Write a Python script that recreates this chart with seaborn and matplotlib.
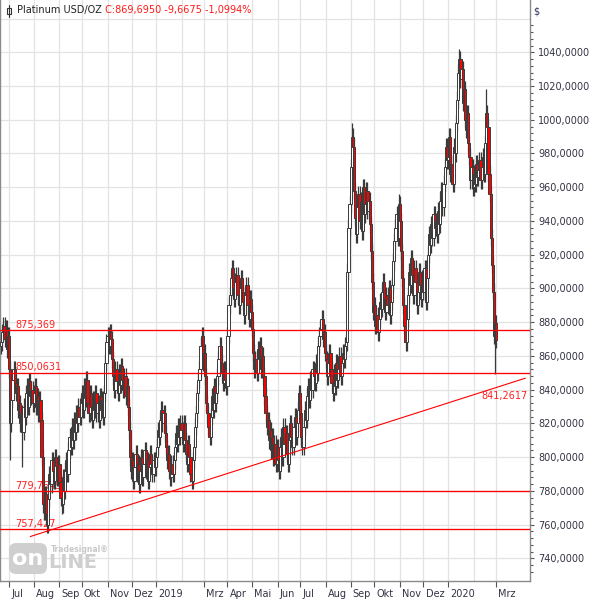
import numpy as np
import pandas as pd
import matplotlib
matplotlib.use('Agg')
import matplotlib.pyplot as plt
import matplotlib.ticker as mticker
import matplotlib.transforms as mtransforms
from matplotlib.patches import Rectangle, FancyBboxPatch
from matplotlib.lines import Line2D
import seaborn as sns

# ---------------- data (daily closes) ----------------
start_date = '2018-06-21'
end_date = '2020-03-02'

close_jun18 = [868, 874, 878, 870, 876, 864, 872]
close_jul18 = [852, 820, 834, 846, 852, 844, 838, 842, 828, 832, 820, 826, 815, 830, 824, 838, 842, 830, 845, 836, 840, 832]
close_aug18 = [838, 842, 830, 836, 826, 834, 822, 800, 772, 768, 778, 766, 760, 775, 790, 784, 798, 792, 786, 800, 795, 788, 796]
close_sep18 = [785, 776, 772, 788, 780, 792, 798, 790, 804, 812, 806, 818, 810, 822, 815, 826, 820, 830, 824, 832]
close_oct18 = [838, 828, 842, 835, 846, 832, 826, 838, 830, 822, 834, 828, 838, 826, 832, 822, 836, 828, 834, 824, 838, 856, 868]
close_nov18 = [872, 866, 874, 870, 858, 848, 840, 852, 845, 838, 850, 843, 854, 846, 840, 848, 836, 842, 830, 816, 800, 792]
close_dec18 = [798, 786, 794, 802, 790, 796, 784, 792, 800, 788, 796, 804, 792, 798, 786, 794, 802, 796, 790, 798, 794]
close_jan19 = [800, 806, 816, 812, 822, 828, 820, 826, 814, 806, 798, 802, 792, 788, 796, 790, 798, 806, 814, 808, 818, 812, 820]
close_feb19 = [816, 808, 820, 810, 802, 796, 808, 800, 790, 786, 798, 806, 818, 826, 838, 846, 852, 866, 872, 856]
close_mar19 = [862, 848, 832, 826, 818, 812, 824, 836, 828, 842, 832, 838, 848, 858, 866, 856, 850, 844, 852, 846, 842]
close_apr19 = [872, 890, 896, 906, 912, 900, 894, 904, 908, 896, 890, 900, 906, 898, 892, 884, 896, 902, 890, 882, 894, 886]
close_may19 = [876, 862, 852, 858, 850, 864, 858, 866, 852, 860, 848, 836, 826, 818, 822, 810, 816, 804, 812, 800, 808, 796, 806]
close_jun19 = [798, 792, 806, 812, 800, 818, 808, 814, 802, 796, 810, 820, 812, 806, 818, 824, 812, 820, 828, 838]
close_jul19 = [826, 812, 806, 818, 828, 822, 836, 842, 834, 846, 840, 852, 848, 844, 856, 850, 866, 872, 876, 882, 870, 874, 862]
close_aug19 = [858, 848, 856, 862, 852, 844, 838, 850, 842, 856, 846, 852, 860, 848, 856, 862, 858, 866, 868, 910, 936, 950]
close_sep19 = [972, 990, 984, 958, 942, 932, 948, 956, 940, 952, 934, 960, 944, 950, 958, 946, 952, 938, 922, 904, 886]
close_oct19 = [890, 878, 884, 874, 882, 892, 888, 898, 904, 894, 886, 896, 890, 900, 884, 892, 902, 916, 928, 936, 944, 930, 950]
close_nov19 = [940, 922, 906, 890, 878, 868, 882, 896, 910, 902, 918, 908, 896, 912, 904, 890, 898, 910, 902, 894, 906]
close_dec19 = [898, 912, 892, 906, 920, 932, 926, 938, 930, 944, 936, 940, 932, 946, 938, 952, 958, 948, 962, 972, 984, 976]
close_jan20 = [978, 990, 968, 974, 962, 984, 980, 998, 1012, 1028, 1036, 1024, 1030, 1010, 1018, 1000, 994, 1004, 986, 978, 964, 972, 960]
close_feb20 = [968, 962, 974, 966, 970, 976, 964, 972, 978, 968, 986, 1004, 996, 968, 956, 930, 914, 898, 872, 879.36]
close_mar20 = [869.695]
first_open = 866

wick_high_dates = ['2019-09-03', '2019-10-31', '2020-01-15', '2020-02-18']
wick_high_values = [998.0, 956.0, 1042.0, 1018.0]
wick_low_dates = ['2018-07-03', '2018-07-18', '2018-08-17', '2018-09-05', '2020-02-28']
wick_low_values = [798.0, 794.0, 757.4, 766.0, 849.0]

month_labels = ['Jul', 'Aug', 'Sep', 'Okt', 'Nov', 'Dez', '2019', '', 'Mrz', 'Apr', 'Mai', 'Jun',
                'Jul', 'Aug', 'Sep', 'Okt', 'Nov', 'Dez', '2020', '', 'Mrz']

level_values = [875.369, 850.0631, 779.7645, 757.427]
level_labels = ['875,369', '850,0631', '779,7645', '757,427']

trend_dates = ['2018-07-27', '2020-03-02']
trend_values = [752.9, 841.2617]
trend_label = '841,2617'
trend_extension_bars = 26

title_name = 'Platinum USD/OZ'
title_quote = 'C:869,6950 -9,6675 -1,0994%'

# ---------------- build OHLC ----------------
close = np.array(close_jun18 + close_jul18 + close_aug18 + close_sep18 + close_oct18 + close_nov18 +
                 close_dec18 + close_jan19 + close_feb19 + close_mar19 + close_apr19 + close_may19 +
                 close_jun19 + close_jul19 + close_aug19 + close_sep19 + close_oct19 + close_nov19 +
                 close_dec19 + close_jan20 + close_feb20 + close_mar20, dtype=float)
dates = pd.bdate_range(start_date, end_date)
assert len(dates) == len(close), (len(dates), len(close))
opens = np.concatenate([[first_open], close[:-1]])
WICK = 5.0
highs = np.maximum(opens, close) + WICK
lows = np.minimum(opens, close) - WICK
for d, v in zip(wick_high_dates, wick_high_values):
    i = dates.get_loc(pd.Timestamp(d)); highs[i] = max(highs[i], v)
for d, v in zip(wick_low_dates, wick_low_values):
    i = dates.get_loc(pd.Timestamp(d)); lows[i] = min(lows[i], v)
xi = np.arange(len(close))

# ---------------- figure ----------------
sns.set_theme(style='white')
plt.rcParams['font.family'] = ['DejaVu Sans']
fig = plt.figure(figsize=(6, 6), dpi=100)
fig.patch.set_facecolor('white')
ax = fig.add_axes([0.0, 1 - 581 / 600, 529.5 / 600, 581 / 600])
ax.set_facecolor('white')

px = 1.12
ax.set_xlim(-1.2 / px, (529.5 - 1.2) / px)
ylo = 740 - (581 - 558.3) / 1.6867
yhi = 1040 + 52.3 / 1.6867
ax.set_ylim(ylo, yhi)

grid_c = '#e3e3e3'
for v in np.arange(740, 1061, 20):
    ax.axhline(v, color=grid_c, lw=0.9, zorder=0)
month_start = [i for i in range(1, len(dates)) if dates[i].month != dates[i - 1].month]
for i in month_start:
    ax.axvline(i, color=grid_c, lw=0.9, zorder=0)

# candles
dark = '#3a3a3a'
up = close >= opens
ax.vlines(xi, lows, highs, color=dark, lw=0.9, zorder=3)
body_bottom = np.minimum(opens, close)
body_h = np.maximum(np.abs(close - opens), 0.4)
colors = np.where(up, 'white', '#ff0000')
ax.bar(xi, body_h, bottom=body_bottom, width=2.0, color=colors, edgecolor=dark, linewidth=0.7, zorder=3)

# levels
blend = mtransforms.blended_transform_factory(ax.transAxes, ax.transData)
for v, lab in zip(level_values, level_labels):
    ax.axhline(v, color='#ff0000', lw=0.95, zorder=4)
    ax.annotate(lab, xy=(15 / 529.5, v), xycoords=blend, xytext=(0, 1.6), textcoords='offset points',
                ha='left', va='baseline', color='#ff2020', fontsize=7, zorder=2)

# trend line (seaborn)
t0 = dates.get_loc(pd.Timestamp(trend_dates[0]))
t1 = dates.get_loc(pd.Timestamp(trend_dates[1]))
slope = (trend_values[1] - trend_values[0]) / (t1 - t0)
tx = [t0, t1, t1 + trend_extension_bars]
ty = [trend_values[0], trend_values[1], trend_values[1] + slope * trend_extension_bars]
sns.lineplot(x=tx, y=ty, ax=ax, color='#ff0000', lw=0.8, zorder=5, legend=False)
ax.annotate(trend_label, xy=(1.0, trend_values[1]), xycoords=blend, xytext=(-1.5, -8.5),
            textcoords='offset points', ha='right', va='baseline', color='#ff2020', fontsize=7, zorder=6)

# axes styling
for s in ['left', 'right', 'bottom']:
    ax.spines[s].set_visible(True)
    ax.spines[s].set_color('#8a8a8a')
    ax.spines[s].set_linewidth(1.0)
ax.spines['top'].set_visible(False)
ax.set_xlabel(''); ax.set_ylabel('')

ax.yaxis.tick_right()
ax.set_yticks(np.arange(740, 1041, 20))
ax.set_yticklabels([f'{v:.4f}'.replace('.', ',') for v in np.arange(740, 1041, 20)])
ax.yaxis.set_minor_locator(mticker.FixedLocator([v for v in np.arange(732, 1060, 4) if v % 20 != 0]))
ax.tick_params(axis='y', which='major', length=3, width=0.8, color='#555555', pad=3.2,
               labelsize=7, labelcolor='#333344', left=False, right=True)
ax.tick_params(axis='y', which='minor', length=2, width=0.8, color='#555555', left=False, right=True)

tick_pos = [i for i, lab in zip(month_start, month_labels) if lab]
tick_lab = [lab for lab in month_labels if lab]
ax.set_xticks(tick_pos)
ax.set_xticklabels(tick_lab)
ax.tick_params(axis='x', which='major', length=4, width=0.8, color='#555555', pad=1.5,
               labelsize=7, labelcolor='#333344', bottom=True)
off = mtransforms.ScaledTranslation(1.5 / 72, 0, fig.dpi_scale_trans)
for t in ax.get_xticklabels():
    t.set_horizontalalignment('left')
    t.set_transform(t.get_transform() + off)

# title
t_name = fig.text(17 / 600, 1 - 10 / 600, title_name, ha='left', va='center', fontsize=7, color='#222222')
ax.annotate(' ' + title_quote, xy=(1, 0.5), xycoords=t_name, ha='left', va='center', fontsize=7,
            color='#ff1a1a', annotation_clip=False)
fig.add_artist(Line2D([9.2 / 600, 9.2 / 600], [1 - 5 / 600, 1 - 16.5 / 600], color='#333333', lw=0.8,
                      transform=fig.transFigure))
fig.add_artist(Rectangle((7.3 / 600, 1 - 13.5 / 600), 3.8 / 600, 5.2 / 600, facecolor='white',
                         edgecolor='#333333', lw=0.8, transform=fig.transFigure))
fig.text(533 / 600, 1 - 11 / 600, '$', ha='left', va='center', fontsize=7, color='#333366')

# watermark
fig.add_artist(FancyBboxPatch((9 / 600, 1 - 574 / 600), 38 / 600, 31 / 600,
                              boxstyle='round,pad=0,rounding_size=0.012', facecolor='#cfcfcf',
                              edgecolor='none', transform=fig.transFigure, zorder=1))
fig.text(28 / 600, 1 - 559 / 600, 'on', ha='center', va='center', fontsize=16, fontweight='bold',
         color='white', zorder=2)
fig.text(48 / 600, 1 - 562 / 600, 'LINE', ha='left', va='center', fontsize=14, fontweight='bold',
         color='#cfcfcf', zorder=2)
fig.text(51 / 600, 1 - 549 / 600, 'Tradesignal\u00ae', ha='left', va='center', fontsize=5.5,
         fontweight='bold', color='#c8c8c8', zorder=2)

fig.savefig('out.png', dpi=100, facecolor='white')
